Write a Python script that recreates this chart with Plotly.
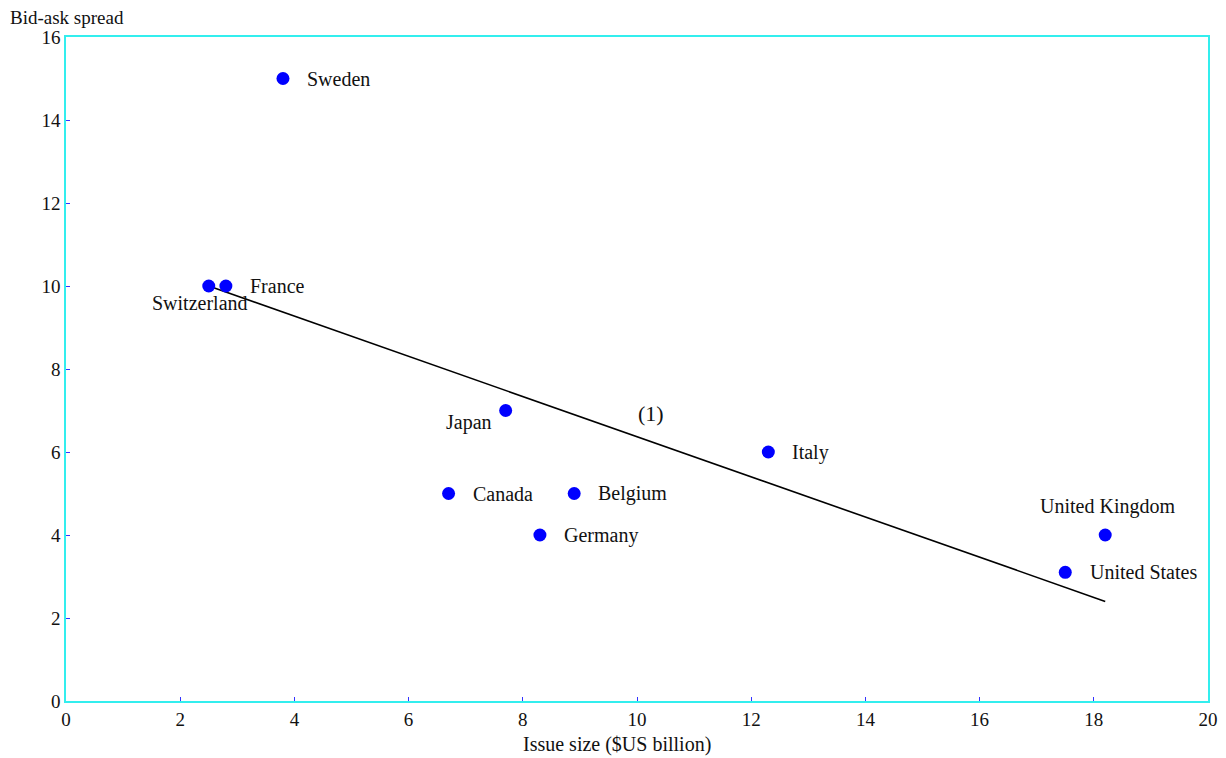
import plotly.graph_objects as go

countries = ["Sweden", "Switzerland", "France", "Japan", "Canada", "Belgium",
             "Germany", "Italy", "United Kingdom", "United States"]
issue_size = [3.8, 2.5, 2.8, 7.7, 6.7, 8.9, 8.3, 12.3, 18.2, 17.5]
spread = [15.0, 10.0, 10.0, 7.0, 5.0, 5.0, 4.0, 6.0, 4.0, 3.1]

fit_x = [2.5, 18.2]
fit_y = [10.0, 2.4]

fit_label = "(1)"
fit_label_pos = (10.25, 6.92)

x_ticks = [0, 2, 4, 6, 8, 10, 12, 14, 16, 18, 20]
y_ticks = [0, 2, 4, 6, 8, 10, 12, 14, 16]

x_title = "Issue size ($US billion)"
y_title = "Bid-ask spread"

# label placement style: (xanchor, yanchor, xshift, yshift)
label_style = {
    "Sweden": ("left", "middle", 22, 0),
    "Switzerland": ("center", "middle", -9, -17),
    "France": ("left", "middle", 22, 0),
    "Japan": ("right", "middle", -12, -12),
    "Canada": ("left", "middle", 22, 0),
    "Belgium": ("left", "middle", 22, 0),
    "Germany": ("left", "middle", 22, 0),
    "Italy": ("left", "middle", 22, 0),
    "United Kingdom": ("center", "middle", 2, 29),
    "United States": ("left", "middle", 23, 0),
}

font_family = "Liberation Serif, Times New Roman, serif"
W, H = 1210, 750
L, R, T, B = 58, 10, 29, 57

fig = go.Figure()
fig.add_trace(go.Scatter(x=fit_x, y=fit_y, mode="lines",
                         line=dict(color="black", width=1.6),
                         hoverinfo="skip", showlegend=False))
fig.add_trace(go.Scatter(x=issue_size, y=spread, mode="markers",
                         marker=dict(color="#0000ff", size=13),
                         text=countries, showlegend=False))

annotations = []
for c, xv, yv in zip(countries, issue_size, spread):
    xa, ya, xs, ys = label_style[c]
    annotations.append(dict(x=xv, y=yv, xref="x", yref="y", text=c,
                            showarrow=False, xanchor=xa, yanchor=ya,
                            xshift=xs, yshift=ys,
                            font=dict(family=font_family, size=20, color="#111")))
annotations.append(dict(x=fit_label_pos[0], y=fit_label_pos[1], xref="x", yref="y",
                        text=fit_label, showarrow=False,
                        font=dict(family=font_family, size=22, color="#111")))
annotations.append(dict(x=-L / (W - L - R), y=1, xref="paper", yref="paper",
                        text=y_title, showarrow=False,
                        xanchor="left", yanchor="middle", yshift=20, xshift=0,
                        font=dict(family=font_family, size=19, color="#111")))
annotations.append(dict(x=0.5, y=0, xref="paper", yref="paper",
                        text=x_title, showarrow=False,
                        xanchor="center", yanchor="middle", yshift=-43, xshift=-20,
                        font=dict(family=font_family, size=20, color="#111")))

fig.update_layout(
    width=W, height=H,
    margin=dict(l=L, r=R, t=T, b=B, autoexpand=False),
    paper_bgcolor="white", plot_bgcolor="white",
    font=dict(family=font_family, size=19, color="#111"),
    annotations=annotations,
)
fig.update_xaxes(range=[0, 20], tickvals=x_ticks, showgrid=False, zeroline=False,
                 showline=True, linecolor="#33eeee", linewidth=1.5, mirror=True,
                 ticks="inside", ticklen=4, tickcolor="#3333ff", automargin=False)
fig.update_yaxes(range=[0, 16], tickvals=y_ticks, showgrid=False, zeroline=False,
                 showline=True, linecolor="#33eeee", linewidth=1.5, mirror=True,
                 ticks="inside", ticklen=4, tickcolor="#3333ff", automargin=False)

fig.write_html("out.html")
